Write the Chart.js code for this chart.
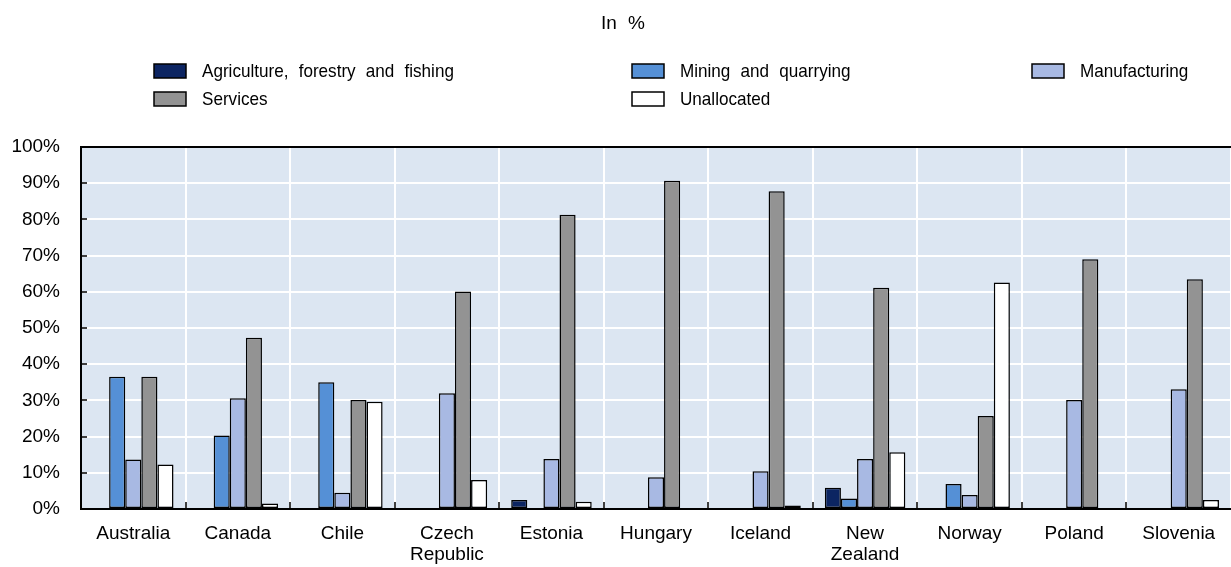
<!DOCTYPE html>
<html>
<head>
<meta charset="utf-8">
<script src="https://cdn.jsdelivr.net/npm/chart.js@4"></script>
<style>
  body { margin: 0; background: #fff; }
  #wrap { width: 1231px; height: 567px; }
</style>
</head>
<body>
<div id="wrap"><canvas id="grafico-sectores"></canvas></div>
<script>
var paises = ['Australia', 'Canada', 'Chile', ['Czech', 'Republic'], 'Estonia', 'Hungary', 'Iceland', ['New', 'Zealand'], 'Norway', 'Poland', 'Slovenia'];
var agricultura = [0.3, 0.3, 0.3, 0, 2.5, 0.3, 0.3, 5.9, 0.3, 0.3, 0.3];
var mineria = [36.5, 20.3, 35.0, 0, 0.3, 0.3, 0.3, 2.9, 6.9, 0.3, 0.3];
var manufactura = [13.7, 30.6, 4.5, 32.0, 13.8, 8.8, 10.4, 13.8, 3.9, 30.1, 33.1];
var servicios = [36.5, 47.3, 30.1, 60.1, 81.3, 90.7, 87.8, 61.1, 25.7, 69.0, 63.5];
var sinAsignar = [12.3, 1.5, 29.6, 8.0, 2.0, 0.3, 1.0, 15.7, 62.6, -0.3, 2.5];
var nombres = ['Agriculture, forestry and fishing', 'Mining and quarrying', 'Manufacturing', 'Services', 'Unallocated'];
var colores = ['#0c2562', '#5590d6', '#a8b9e3', '#939393', '#ffffff'];
var ticksY = [0, 10, 20, 30, 40, 50, 60, 70, 80, 90, 100];

var fuente = '"Liberation Sans", Arial, sans-serif';

// fondo del area, ticks interiores, titulo y leyenda
var decoracion = {
    id: 'decoracion',
    beforeDraw: function (chart) {
        var a = chart.chartArea;
        var ctx = chart.ctx;
        ctx.save();
        ctx.fillStyle = '#dce6f2';
        ctx.fillRect(a.left, a.top, a.right - a.left, a.bottom - a.top);
        ctx.restore();
    },
    afterDraw: function (chart) {
        var a = chart.chartArea;
        var ctx = chart.ctx;
        var x = chart.scales.x;
        var y = chart.scales.y;
        ctx.save();
        ctx.strokeStyle = '#000';
        ctx.lineWidth = 2;
        ctx.beginPath();
        ctx.moveTo(a.left, a.top);
        ctx.lineTo(a.right, a.top);
        ctx.stroke();
        ctx.lineWidth = 1.5;
        ctx.beginPath();
        ticksY.forEach(function (v) {
            var py = Math.round(y.getPixelForValue(v));
            ctx.moveTo(a.left, py);
            ctx.lineTo(a.left + 6, py);
        });
        for (var i = 1; i < paises.length; i++) {
            var px = Math.round((x.getPixelForValue(i - 1) + x.getPixelForValue(i)) / 2);
            ctx.moveTo(px, a.bottom);
            ctx.lineTo(px, a.bottom - 7);
        }
        ctx.stroke();

        ctx.fillStyle = '#000';
        ctx.font = '19px ' + fuente;
        ctx.wordSpacing = '6px';
        ctx.textAlign = 'center';
        ctx.textBaseline = 'middle';
        ctx.fillText('In %', 623, 24);

        var posX = [154, 632, 1032];
        var posY = [71, 99];
        ctx.textAlign = 'left';
        ctx.font = '19px ' + fuente;
        ctx.wordSpacing = '6px';
        chart.data.datasets.forEach(function (ds, k) {
            var bx = posX[k % 3];
            var by = posY[Math.floor(k / 3)];
            ctx.fillStyle = ds.backgroundColor;
            ctx.fillRect(bx, by - 7, 32, 14);
            ctx.strokeStyle = '#000';
            ctx.lineWidth = 1.5;
            ctx.strokeRect(bx, by - 7, 32, 14);
            ctx.fillStyle = '#000';
            ctx.save();
            ctx.translate(bx + 48, by + 1);
            ctx.scale(0.9, 1);
            ctx.fillText(ds.label, 0, 0);
            ctx.restore();
        });
        ctx.restore();
    }
};

var series = [agricultura, mineria, manufactura, servicios, sinAsignar];
var datasets = series.map(function (s, k) {
    return {
        label: nombres[k],
        data: s,
        backgroundColor: colores[k],
        borderColor: '#000',
        borderWidth: 1.5,
        borderSkipped: false,
        barPercentage: 1,
        categoryPercentage: 0.77
    };
});

const ctx = document.getElementById('grafico-sectores');
var myChart = new Chart(ctx, {
    type: 'bar',
    data: {
        labels: paises,
        datasets: datasets
    },
    options: {
        responsive: true,
        maintainAspectRatio: false,
        animation: false,
        layout: { padding: { top: 147, right: 0, left: 0, bottom: 0 } },
        plugins: {
            legend: { display: false },
            title: { display: false },
            tooltip: { enabled: false }
        },
        scales: {
            x: {
                grid: { color: '#ffffff', lineWidth: 2, offset: true, drawTicks: false },
                border: { color: '#000', width: 2 },
                ticks: { color: '#000', font: { family: fuente, size: 19, lineHeight: 1.1 }, padding: 14, maxRotation: 0, autoSkip: false },
                afterFit: function (s) { s.height = 58; }
            },
            y: {
                min: 0,
                max: 100,
                grid: { color: '#ffffff', lineWidth: 2, drawTicks: false },
                border: { color: '#000', width: 2 },
                afterBuildTicks: function (s) {
                    s.ticks = ticksY.map(function (v) { return { value: v }; });
                },
                ticks: {
                    color: '#000',
                    font: { family: fuente, size: 19 },
                    padding: 21,
                    callback: function (v) { return v + '%'; }
                },
                afterFit: function (s) { s.width = 81; }
            }
        }
    },
    plugins: [decoracion]
});
</script>
</body>
</html>
